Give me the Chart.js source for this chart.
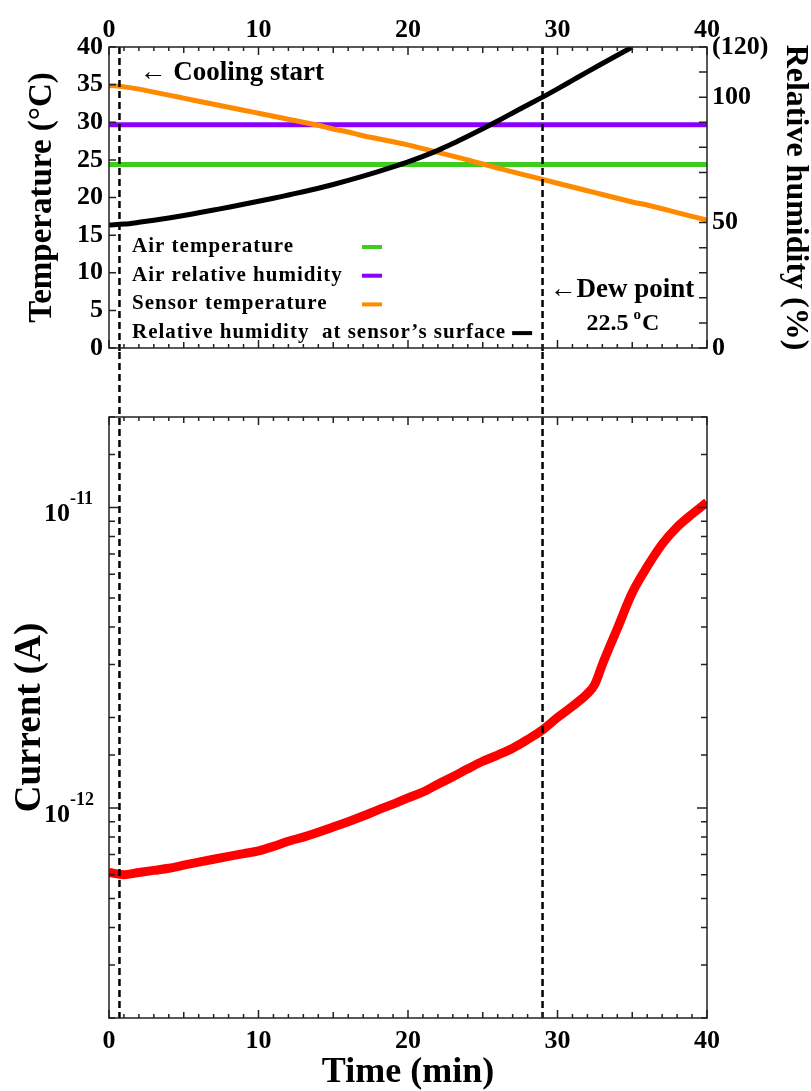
<!DOCTYPE html>
<html>
<head>
<meta charset="utf-8">
<script src="https://cdn.jsdelivr.net/npm/chart.js@4.4.1/dist/chart.umd.min.js"></script>
<style>
  body { margin: 0; background: #fff; }
  #wrap { position: relative; width: 811px; height: 1091px; }
  canvas { position: absolute; left: 0; }
  #topChart { top: 0; }
  #bottomChart { top: 352px; }
</style>
</head>
<body>
<div id="wrap">
  <canvas id="topChart" width="811" height="380"></canvas>
  <canvas id="bottomChart" width="811" height="739"></canvas>
</div>
<script>
const FONT = '"Liberation Serif", "Times New Roman", serif';
const AXIS = '#222';

// top panel (time in min)
const airTempTime = [0, 40];
const airTemp = [24.4, 24.4];                 // °C
const airRhTime = [0, 40];
const airRh = [89, 89];                       // %
const sensorTime = [0, 1, 2, 3, 4, 5, 6, 7, 8, 9, 10, 11, 12, 13, 14, 15, 16, 17, 18, 19, 20,
    21, 22, 23, 24, 25, 26, 27, 28, 29, 30, 31, 32, 33, 34, 35, 36, 37, 38, 39, 40];
const sensorTemp = [34.9, 34.7, 34.4, 34.0, 33.6, 33.2, 32.8, 32.4, 32.0, 31.6, 31.2, 30.8, 30.4, 30.0, 29.6,
    29.1, 28.7, 28.2, 27.8, 27.4, 27.0, 26.5, 26.0, 25.5, 25.0, 24.45, 23.9, 23.4, 22.9, 22.4, 21.9,
    21.4, 20.9, 20.4, 19.9, 19.4, 19.0, 18.5, 18.0, 17.5, 17.0];
const surfaceTime = [0, 1, 2, 3, 4, 5, 6, 7, 8, 9, 10, 11, 12, 13, 14, 15, 16, 17, 18, 19, 20,
    21, 22, 23, 24, 25, 26, 27, 28, 29, 30, 31, 32, 33, 34, 35];
const surfaceRh = [49.0, 49.4, 50.1, 50.9, 51.8, 52.8, 53.9, 55.0, 56.1, 57.3, 58.5, 59.7, 61.0, 62.3, 63.7,
    65.2, 66.8, 68.5, 70.3, 72.2, 74.2, 76.4, 78.8, 81.5, 84.4, 87.4, 90.5, 93.7, 96.9, 100.0,
    103.3, 106.7, 110.1, 113.4, 116.7, 120.0];

// bottom panel
const currentTime = [0, 1, 2, 3, 4, 5, 6, 7, 8, 9, 10, 11, 12, 13, 14, 15, 16, 17, 18, 19, 20,
    21, 22, 23, 24, 25, 26, 27, 28, 29, 30, 31, 32, 32.5, 33, 33.5, 34, 35, 36, 37, 38, 39, 40];
const currentAmps = [6.1e-13, 6.0e-13, 6.1e-13, 6.2e-13, 6.3e-13, 6.45e-13, 6.6e-13, 6.75e-13, 6.9e-13,
    7.05e-13, 7.2e-13, 7.45e-13, 7.75e-13, 8.0e-13, 8.3e-13, 8.65e-13, 9.0e-13, 9.4e-13, 9.85e-13,
    1.03e-12, 1.08e-12, 1.13e-12, 1.2e-12, 1.27e-12, 1.35e-12, 1.43e-12, 1.5e-12, 1.58e-12, 1.69e-12,
    1.82e-12, 2.0e-12, 2.18e-12, 2.4e-12, 2.58e-12, 3.0e-12, 3.45e-12, 3.95e-12, 5.2e-12, 6.35e-12,
    7.55e-12, 8.6e-12, 9.5e-12, 1.04e-11];

const markerTimes = [0.7, 29];   // cooling start, dew point

function pts(xs, ys) {
    return xs.map((x, i) => ({ x: x, y: ys[i] }));
}

function font(size) {
    return { family: FONT, size: size, weight: 'bold', lineHeight: 1 };
}

// fixed axis box sizes, no label overhang padding
function fixWidth(w) {
    return s => { s.width = w; s.paddingTop = 0; s.paddingBottom = 0; };
}
function fixHeight(h) {
    return s => { s.height = h; s.paddingLeft = 0; s.paddingRight = 0; };
}

function drawMarkers(ctx, xs, y0, y1) {
    ctx.save();
    ctx.strokeStyle = '#000';
    ctx.lineWidth = 2.5;
    ctx.setLineDash([7, 4]);
    ctx.beginPath();
    markerTimes.forEach(t => {
        const px = xs.getPixelForValue(t);
        ctx.moveTo(px, y0);
        ctx.lineTo(px, y1);
    });
    ctx.stroke();
    ctx.restore();
}

function drawTimeTicks(ctx, xs, a) {
    for (let t = xs.min; t <= xs.max; t++) {
        const px = xs.getPixelForValue(t);
        const len = t % 10 === 0 ? 8 : (t % 5 === 0 ? 6 : 4);
        ctx.moveTo(px, a.top); ctx.lineTo(px, a.top + len);
        ctx.moveTo(px, a.bottom); ctx.lineTo(px, a.bottom - len);
    }
}

const topDecor = {
    id: 'topDecor',
    afterDatasetsDraw(chart) {
        const ctx = chart.ctx, a = chart.chartArea;
        const xs = chart.scales.x, yT = chart.scales.yT, yRH = chart.scales.yRH;
        // the lower canvas continues the dashed lines below a.bottom + 4
        drawMarkers(ctx, xs, a.top, a.bottom + 4);

        ctx.save();
        ctx.strokeStyle = AXIS;
        ctx.lineWidth = 1.5;
        ctx.strokeRect(a.left, a.top, a.right - a.left, a.bottom - a.top);
        ctx.beginPath();
        drawTimeTicks(ctx, xs, a);
        yT.ticks.forEach(tk => {
            const py = yT.getPixelForValue(tk.value);
            ctx.moveTo(a.left, py); ctx.lineTo(a.left + 7, py);
        });
        yRH.ticks.forEach(tk => {
            const py = yRH.getPixelForValue(tk.value);
            ctx.moveTo(a.right, py); ctx.lineTo(a.right - 8, py);
        });
        ctx.stroke();

        // legend: text on the left, colour dash in a column
        ctx.textAlign = 'left';
        ctx.textBaseline = 'alphabetic';
        chart.data.datasets.forEach((ds, i) => {
            const by = a.bottom - 96 + i * 28.7;
            ctx.font = 'bold 21px ' + FONT;
            ctx.letterSpacing = '1px';
            ctx.fillStyle = '#000';
            ctx.fillText(ds.label, a.left + 23, by);
            const mx = i < 3 ? a.left + 253 : a.left + 23 + ctx.measureText(ds.label).width + 6;
            ctx.fillStyle = ds.borderColor;
            ctx.fillRect(mx, by - 7, 20, 4);
        });
        ctx.letterSpacing = '0px';

        // annotations
        ctx.fillStyle = '#000';
        const x0 = xs.getPixelForValue(markerTimes[0]);
        const x1 = xs.getPixelForValue(markerTimes[1]);
        ctx.font = 'bold 27px ' + FONT;
        ctx.fillText('\u2190 Cooling start', x0 + 20, a.top + 33);
        ctx.fillText('\u2190Dew point', x1 + 7, a.bottom - 51);
        ctx.font = 'bold 24px ' + FONT;
        let tx = x1 + 44;
        ctx.fillText('22.5', tx, a.bottom - 18);
        tx += ctx.measureText('22.5').width + 5;
        ctx.font = 'bold 15px ' + FONT;
        ctx.fillText('o', tx, a.bottom - 29);
        tx += ctx.measureText('o').width + 1;
        ctx.font = 'bold 24px ' + FONT;
        ctx.fillText('C', tx, a.bottom - 18);
        ctx.restore();
    }
};

const bottomDecor = {
    id: 'bottomDecor',
    afterDatasetsDraw(chart) {
        const ctx = chart.ctx, a = chart.chartArea;
        const xs = chart.scales.x, ys = chart.scales.y;
        drawMarkers(ctx, xs, 0, a.bottom);

        ctx.save();
        ctx.strokeStyle = AXIS;
        ctx.lineWidth = 1.5;
        ctx.strokeRect(a.left, a.top, a.right - a.left, a.bottom - a.top);
        ctx.beginPath();
        drawTimeTicks(ctx, xs, a);
        const majors = [];
        ys.ticks.forEach(tk => {
            const py = ys.getPixelForValue(tk.value);
            const lg = Math.log10(tk.value);
            const major = Math.abs(lg - Math.round(lg)) < 1e-6;
            if (major) majors.push({ py: py, exp: Math.round(lg) });
            const len = major ? 10 : 6;
            ctx.moveTo(a.left, py); ctx.lineTo(a.left + len, py);
            ctx.moveTo(a.right, py); ctx.lineTo(a.right - len, py);
        });
        ctx.stroke();

        // decade labels 10^n
        ctx.fillStyle = '#000';
        ctx.textBaseline = 'alphabetic';
        majors.forEach(m => {
            ctx.textAlign = 'right';
            ctx.font = 'bold 26px ' + FONT;
            ctx.fillText('10', a.left - 39, m.py + 14);
            ctx.textAlign = 'left';
            ctx.font = 'bold 18px ' + FONT;
            ctx.fillText('-' + Math.abs(m.exp), a.left - 39, m.py - 3);
        });
        ctx.restore();
    }
};

const tickFont = font(26);

new Chart(document.getElementById('topChart'), {
    type: 'line',
    data: {
        datasets: [
            { label: 'Air temperature', data: pts(airTempTime, airTemp), borderColor: '#3dcc1f', yAxisID: 'yT', order: 3 },
            { label: 'Air relative humidity', data: pts(airRhTime, airRh), borderColor: '#8a00ff', yAxisID: 'yRH', order: 2 },
            { label: 'Sensor temperature', data: pts(sensorTime, sensorTemp), borderColor: '#ff8a00', yAxisID: 'yT', order: 1 },
            { label: 'Relative humidity  at sensor\u2019s surface', data: pts(surfaceTime, surfaceRh), borderColor: '#000000', yAxisID: 'yRH', order: 0 }
        ]
    },
    options: {
        responsive: false,
        animation: false,
        layout: { padding: { bottom: 32 } },
        elements: {
            point: { radius: 0 },
            line: { borderWidth: 5, cubicInterpolationMode: 'monotone' }
        },
        plugins: { legend: { display: false }, tooltip: { enabled: false } },
        scales: {
            x: {
                type: 'linear', position: 'top', min: 0, max: 40,
                afterFit: fixHeight(47),
                grid: { display: false, drawTicks: false },
                border: { display: false },
                ticks: { stepSize: 10, padding: 4, font: tickFont, color: '#000', maxRotation: 0 }
            },
            yT: {
                type: 'linear', position: 'left', min: 0, max: 40,
                afterFit: fixWidth(109),
                grid: { display: false, drawTicks: false },
                border: { display: false },
                ticks: { stepSize: 5, padding: 6, font: tickFont, color: '#000', autoSkip: false },
                title: { display: true, text: 'Temperature (\u00B0C)', font: font(33), color: '#000', padding: { top: 26, bottom: 0 } }
            },
            yRH: {
                type: 'linear', position: 'right', min: 0, max: 120,
                afterFit: fixWidth(104),
                grid: { display: false, drawTicks: false },
                border: { display: false },
                ticks: {
                    stepSize: 10, padding: 5, font: tickFont, color: '#000', autoSkip: false,
                    callback: v => v === 120 ? '(120)' : (v % 50 === 0 ? String(v) : '')
                },
                title: { display: true, text: 'Relative humidity (%)', font: font(32), color: '#000', padding: { top: 0, bottom: 0 } }
            }
        }
    },
    plugins: [topDecor]
});

new Chart(document.getElementById('bottomChart'), {
    type: 'line',
    data: {
        datasets: [{
            label: 'Current',
            data: pts(currentTime, currentAmps),
            borderColor: '#ff0000',
            borderWidth: 9,
            pointRadius: 0,
            cubicInterpolationMode: 'monotone'
        }]
    },
    options: {
        responsive: false,
        animation: false,
        layout: { padding: { top: 65, right: 104 } },
        plugins: { legend: { display: false }, tooltip: { enabled: false } },
        scales: {
            x: {
                type: 'linear', position: 'bottom', min: 0, max: 40,
                afterFit: fixHeight(73),
                grid: { display: false, drawTicks: false },
                border: { display: false },
                ticks: { stepSize: 10, padding: 10, font: tickFont, color: '#000', maxRotation: 0 },
                title: { display: true, text: 'Time (min)', font: font(36), color: '#000', padding: 0 }
            },
            y: {
                type: 'logarithmic', min: 2e-13, max: 2e-11,
                afterFit: fixWidth(109),
                grid: { display: false, drawTicks: false },
                border: { display: false },
                ticks: { display: false, autoSkip: false },
                title: { display: true, text: 'Current (A)', font: font(37), color: '#000', padding: { top: 12, bottom: 0 } }
            }
        }
    },
    plugins: [bottomDecor]
});
</script>
</body>
</html>
